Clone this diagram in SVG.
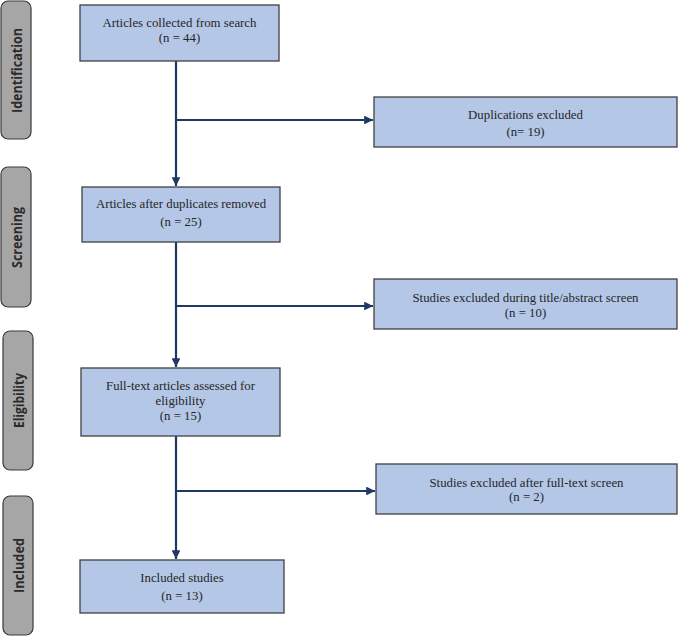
<svg xmlns="http://www.w3.org/2000/svg" width="678" height="636" viewBox="0 0 678 636">
<style>
.stage{fill:#a6a6a6;stroke:#3a3a3a;stroke-width:1.2}
.stl{font-family:"Open Sans","Liberation Sans",sans-serif;font-weight:bold;font-size:14px;fill:#2b2b2b;text-anchor:middle}
.box{fill:#b4c7e7;stroke:#404040;stroke-width:1.3}
.t{font-family:"Liberation Serif","Times New Roman",serif;font-size:12.8px;fill:#262626;text-anchor:middle}
.ln{stroke:#1f3864;stroke-width:2.2;fill:none}
</style>
<defs>
<marker id="ah" viewBox="0 0 10 10" refX="10" refY="5" markerWidth="4" markerHeight="4" orient="auto" markerUnits="strokeWidth">
<path d="M0,0 L10,5 L0,10 z" fill="#1f3864"/>
</marker>
</defs>
<g id="stage-identification"><rect class="stage" x="1" y="1" width="30" height="138" rx="7"/><text class="stl" transform="translate(22,70.5) rotate(-90)" textLength="85" lengthAdjust="spacingAndGlyphs">Identification</text></g>
<g id="stage-screening"><rect class="stage" x="1" y="167" width="30" height="140" rx="7"/><text class="stl" transform="translate(22,237.5) rotate(-90)" textLength="61" lengthAdjust="spacingAndGlyphs">Screening</text></g>
<g id="stage-eligibility"><rect class="stage" x="3" y="331" width="30" height="139" rx="7"/><text class="stl" transform="translate(24,400.5) rotate(-90)" textLength="55" lengthAdjust="spacingAndGlyphs">Eligibility</text></g>
<g id="stage-included"><rect class="stage" x="3" y="496" width="30" height="139" rx="7"/><text class="stl" transform="translate(24,565.5) rotate(-90)" textLength="55" lengthAdjust="spacingAndGlyphs">Included</text></g>
<g id="connectors">
<line class="ln" x1="176" y1="61" x2="176" y2="186" marker-end="url(#ah)"/>
<line class="ln" x1="176" y1="120" x2="373" y2="120" marker-end="url(#ah)"/>
<line class="ln" x1="176" y1="242" x2="176" y2="367" marker-end="url(#ah)"/>
<line class="ln" x1="176" y1="306" x2="373" y2="306" marker-end="url(#ah)"/>
<line class="ln" x1="176" y1="436" x2="176" y2="559" marker-end="url(#ah)"/>
<line class="ln" x1="176" y1="491" x2="375" y2="491" marker-end="url(#ah)"/>
</g>
<g id="n1"><rect class="box" x="80" y="5" width="199" height="56"/><text class="t" x="179.5" y="27">Articles collected from search</text><text class="t" x="179.5" y="42">(n = 44)</text></g>
<g id="n2"><rect class="box" x="374" y="97" width="303" height="50"/><text class="t" x="525.5" y="119">Duplications excluded</text><text class="t" x="525.5" y="136">(n= 19)</text></g>
<g id="n3"><rect class="box" x="82" y="187" width="198" height="55"/><text class="t" x="181" y="208">Articles after duplicates removed</text><text class="t" x="181" y="226">(n = 25)</text></g>
<g id="n4"><rect class="box" x="374" y="279" width="303" height="50"/><text class="t" x="525.5" y="302">Studies excluded during title/abstract screen</text><text class="t" x="525.5" y="317">(n = 10)</text></g>
<g id="n5"><rect class="box" x="81" y="368" width="199" height="68"/><text class="t" x="180.5" y="390">Full-text articles assessed for</text><text class="t" x="180.5" y="405">eligibility</text><text class="t" x="180.5" y="420">(n = 15)</text></g>
<g id="n6"><rect class="box" x="376" y="464" width="301" height="50"/><text class="t" x="526.5" y="487">Studies excluded after full-text screen</text><text class="t" x="526.5" y="501">(n = 2)</text></g>
<g id="n7"><rect class="box" x="80" y="560" width="204" height="53"/><text class="t" x="182" y="582">Included studies</text><text class="t" x="182" y="600">(n = 13)</text></g>
</svg>
